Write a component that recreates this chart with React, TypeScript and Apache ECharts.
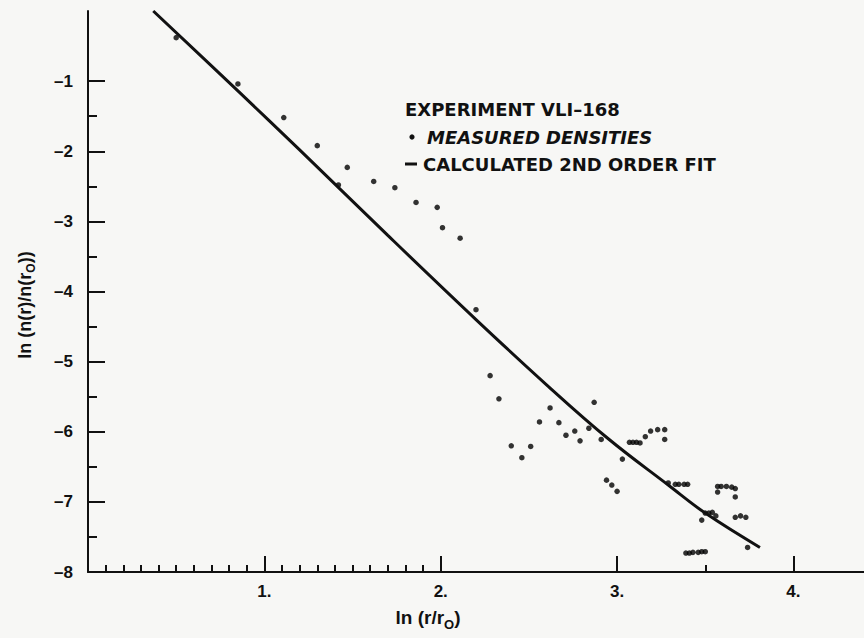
import React, { useEffect, useRef } from "react";
import * as echarts from "echarts";

const measuredDensities: [number, number][] = [
  [0.5, -0.38], [0.85, -1.04], [1.11, -1.52], [1.3, -1.92], [1.42, -2.48],
  [1.47, -2.23], [1.62, -2.43], [1.74, -2.52], [1.86, -2.73], [1.98, -2.8],
  [2.01, -3.09], [2.11, -3.24], [2.2, -4.26], [2.28, -5.2], [2.33, -5.53],
  [2.4, -6.2], [2.46, -6.37], [2.51, -6.21], [2.56, -5.86], [2.62, -5.66],
  [2.67, -5.87], [2.71, -6.05], [2.76, -5.99], [2.79, -6.13], [2.84, -5.95],
  [2.87, -5.58], [2.91, -6.11], [2.94, -6.69], [2.97, -6.76], [3.0, -6.85],
  [3.03, -6.39], [3.07, -6.15], [3.09, -6.15], [3.11, -6.15], [3.13, -6.16],
  [3.16, -6.07], [3.19, -5.99], [3.23, -5.97], [3.27, -5.97], [3.27, -6.11],
  [3.29, -6.73], [3.33, -6.75], [3.35, -6.75], [3.38, -6.75], [3.4, -6.75],
  [3.39, -7.73], [3.41, -7.73], [3.43, -7.72], [3.46, -7.72], [3.48, -7.71],
  [3.5, -7.71], [3.48, -7.26], [3.5, -7.16], [3.52, -7.16], [3.54, -7.15],
  [3.56, -7.2], [3.57, -6.86], [3.57, -6.78], [3.59, -6.78], [3.62, -6.78],
  [3.65, -6.79], [3.67, -6.81], [3.67, -6.93], [3.67, -7.22], [3.7, -7.2],
  [3.73, -7.22], [3.74, -7.65],
];

const fitCurve: [number, number][] = [
  [0.37, 0.0], [0.85, -1.14], [1.2, -1.98], [1.7, -3.2], [2.2, -4.4],
  [2.6, -5.33], [2.95, -6.1], [3.29, -6.76], [3.5, -7.16], [3.81, -7.65],
];

const xMajorTicks = [1, 2, 3, 4];
const xTickLabels = ["1.", "2.", "3.", "4."];
const xMinorTicks = [
  0.1, 0.2, 0.3, 0.4, 0.5, 0.6, 0.7, 0.8, 0.9,
  1.1, 1.2, 1.3, 1.4, 1.5, 1.6, 1.7, 1.8, 1.9, 3.5,
];
const yMajorTicks = [-1, -2, -3, -4, -5, -6, -7];
const yLabelValues = [-1, -2, -3, -4, -5, -6, -7, -8];
const yTickLabels = ["–1", "–2", "–3", "–4", "–5", "–6", "–7", "–8"];
const yMinorTicks = [-1.5, -2.5, -3.5, -4.5, -5.5, -6.5, -7.5];

const INK = "#111111";
const BG = "#f7f7f5";

export default function App() {
  const ref = useRef<HTMLDivElement>(null);

  useEffect(() => {
    document.body.style.margin = "0";
    document.body.style.background = BG;
    const chart = echarts.init(ref.current!, null, { renderer: "svg" });

    const tickFont = { fontSize: 17, fontWeight: "bold" as const, fontFamily: "Liberation Sans", color: INK };

    chart.setOption({
      animation: false,
      backgroundColor: BG,
      grid: { left: 88, top: 11, width: 779, height: 561, containLabel: false },
      xAxis: [
        {
          type: "value",
          min: 0,
          max: 4.4,
          position: "bottom",
          axisLine: { show: true, onZero: false, lineStyle: { color: INK, width: 2 } },
          axisTick: {
            show: true,
            inside: true,
            length: 16,
            customValues: xMajorTicks,
            lineStyle: { color: INK, width: 2 },
          },
          axisLabel: {
            show: true,
            customValues: xMajorTicks,
            margin: 11,
            ...tickFont,
            formatter: (v: number) => xTickLabels[xMajorTicks.indexOf(v)] ?? "",
          },
          splitLine: { show: false },
        },
        {
          type: "value",
          min: 0,
          max: 4.4,
          position: "bottom",
          axisLine: { show: false, onZero: false },
          axisTick: {
            show: true,
            inside: true,
            length: 7,
            customValues: xMinorTicks,
            lineStyle: { color: INK, width: 2 },
          },
          axisLabel: { show: false },
          splitLine: { show: false },
        },
      ],
      yAxis: [
        {
          type: "value",
          min: -8,
          max: 0,
          position: "left",
          axisLine: { show: true, onZero: false, lineStyle: { color: INK, width: 2 } },
          axisTick: {
            show: true,
            inside: true,
            length: 17,
            customValues: yMajorTicks,
            lineStyle: { color: INK, width: 2 },
          },
          axisLabel: {
            show: true,
            customValues: yLabelValues,
            margin: 15,
            ...tickFont,
            formatter: (v: number) => yTickLabels[yLabelValues.indexOf(v)] ?? "",
          },
          splitLine: { show: false },
        },
        {
          type: "value",
          min: -8,
          max: 0,
          position: "left",
          axisLine: { show: false, onZero: false },
          axisTick: {
            show: true,
            inside: true,
            length: 9,
            customValues: yMinorTicks,
            lineStyle: { color: INK, width: 2 },
          },
          axisLabel: { show: false },
          splitLine: { show: false },
        },
      ],
      series: [
        {
          name: "MEASURED DENSITIES",
          type: "scatter",
          xAxisIndex: 0,
          yAxisIndex: 0,
          data: measuredDensities,
          symbol: "circle",
          symbolSize: 5.5,
          itemStyle: { color: "#000000" },
          silent: true,
        },
        {
          name: "CALCULATED 2ND ORDER FIT",
          type: "line",
          xAxisIndex: 0,
          yAxisIndex: 0,
          data: fitCurve,
          showSymbol: false,
          smooth: 0.4,
          clip: false,
          lineStyle: { color: INK, width: 3 },
          silent: true,
        },
      ],
      graphic: [
        {
          type: "text",
          x: 405,
          y: 109,
          style: {
            text: "EXPERIMENT VLI–168",
            font: 'bold 18px "DejaVu Sans"',
            fill: INK,
            verticalAlign: "middle",
          },
        },
        { type: "circle", shape: { cx: 412, cy: 137, r: 2.6 }, style: { fill: INK } },
        {
          type: "text",
          x: 427,
          y: 137,
          style: {
            text: "MEASURED DENSITIES",
            font: 'italic bold 18px "DejaVu Sans"',
            fill: INK,
            verticalAlign: "middle",
          },
        },
        { type: "rect", shape: { x: 405, y: 162.5, width: 12, height: 3 }, style: { fill: INK } },
        {
          type: "text",
          x: 423,
          y: 164,
          style: {
            text: "CALCULATED 2ND ORDER FIT",
            font: 'bold 18px "DejaVu Sans"',
            fill: INK,
            verticalAlign: "middle",
          },
        },
        {
          type: "text",
          x: 428,
          y: 608,
          style: {
            text: "{a|ln (r/r}{s|O}{a|)}",
            align: "center",
            verticalAlign: "top",
            fill: INK,
            rich: {
              a: { fontSize: 19, fontWeight: "bold", fontFamily: "Liberation Sans", lineHeight: 21, verticalAlign: "top", fill: INK },
              s: { fontSize: 13, fontWeight: "bold", fontFamily: "Liberation Sans", lineHeight: 14, verticalAlign: "top", padding: [10, 0, 0, 0], fill: INK },
            },
          },
        },
        {
          type: "text",
          x: 16,
          y: 305,
          rotation: Math.PI / 2,
          style: {
            text: "{a|ln (n(r)/n(r}{s|O}{a|))}",
            align: "center",
            verticalAlign: "top",
            fill: INK,
            rich: {
              a: { fontSize: 18, fontWeight: "bold", fontFamily: "Liberation Sans", lineHeight: 20, verticalAlign: "top", fill: INK },
              s: { fontSize: 12, fontWeight: "bold", fontFamily: "Liberation Sans", lineHeight: 13, verticalAlign: "top", padding: [9, 0, 0, 0], fill: INK },
            },
          },
        },
      ],
    });

    return () => chart.dispose();
  }, []);

  return <div ref={ref} style={{ width: 864, height: 638 }} />;
}
